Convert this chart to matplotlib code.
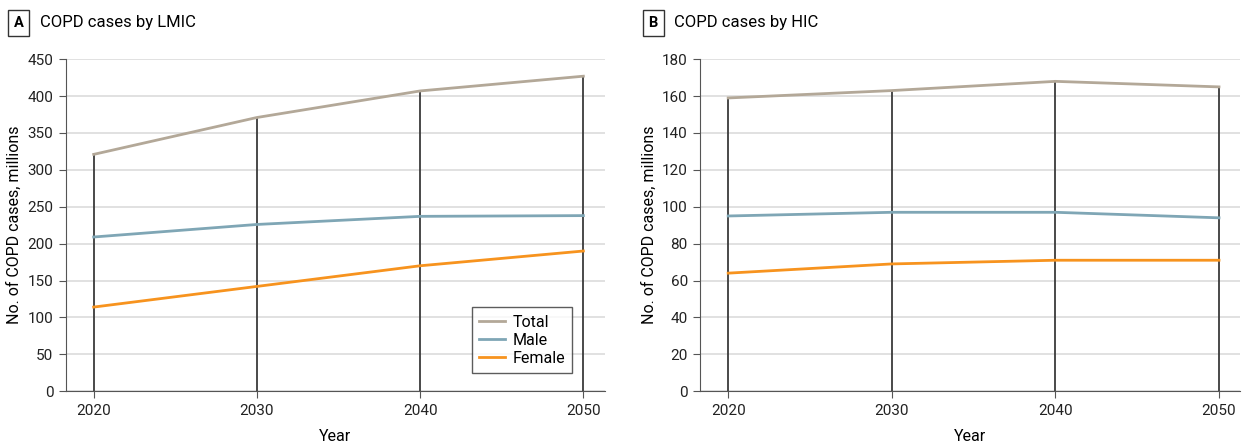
import matplotlib.pyplot as plt

YEARS = [2020, 2030, 2040, 2050]

LMIC_TOTAL = [321, 371, 407, 427]
LMIC_MALE = [209, 226, 237, 238]
LMIC_FEMALE = [114, 142, 170, 190]

HIC_TOTAL = [159, 163, 168, 165]
HIC_MALE = [95, 97, 97, 94]
HIC_FEMALE = [64, 69, 71, 71]

COLOR_TOTAL = "#b3a898"
COLOR_MALE = "#7fa6b5"
COLOR_FEMALE = "#f7931e"

plt.rcParams["font.family"] = ["Roboto", "DejaVu Sans"]
plt.rcParams["font.size"] = 11


def draw_panel(fig, ax, total, male, female, ymax, ystep, letter, title, legend=False):
    # dark stems from zero up to the total at each year
    for x, t in zip(YEARS, total):
        ax.plot([x, x], [0, t], color="#3a3a3a", lw=1.3, zorder=2)
    ax.plot(YEARS, total, color=COLOR_TOTAL, lw=2, label="Total", zorder=3)
    ax.plot(YEARS, male, color=COLOR_MALE, lw=2, label="Male", zorder=3)
    ax.plot(YEARS, female, color=COLOR_FEMALE, lw=2, label="Female", zorder=3)

    ax.set_xlim(2018.3, 2051.3)
    ax.set_ylim(0, ymax)
    ax.set_xticks(YEARS)
    ax.set_yticks(range(0, ymax + 1, ystep))
    ax.yaxis.grid(True, color="#dcdcdc", lw=1.2)
    ax.set_axisbelow(True)
    for s in ["top", "right"]:
        ax.spines[s].set_visible(False)
    ax.spines["left"].set_color("#555555")
    ax.spines["bottom"].set_color("#555555")
    ax.tick_params(length=5, color="#555555", labelsize=11, labelcolor="#222222", pad=4)
    ax.set_xlabel("Year", fontsize=11.5, labelpad=8)
    ax.set_ylabel("No. of COPD cases, millions", fontsize=11.5, labelpad=4)

    if legend:
        leg = ax.legend(loc="lower right", bbox_to_anchor=(0.955, 0.03), fontsize=11.5,
                        frameon=True, fancybox=False, edgecolor="#333333",
                        handlelength=1.6, handletextpad=0.5, borderpad=0.45,
                        labelspacing=0.2)
        leg.get_frame().set_linewidth(1.0)

    pos = ax.get_position()
    fig.text(pos.x0 - 0.038, 0.948, letter, fontsize=10.5, fontweight="bold",
             ha="center", va="center",
             bbox=dict(boxstyle="square,pad=0.4", fc="white", ec="#333333", lw=1))
    fig.text(pos.x0 - 0.021, 0.948, title, fontsize=12, ha="left", va="center")


fig = plt.figure(figsize=(12.44, 4.42), dpi=100)
ax1 = fig.add_axes([0.053, 0.115, 0.433, 0.751])
ax2 = fig.add_axes([0.563, 0.115, 0.434, 0.751])

draw_panel(fig, ax1, LMIC_TOTAL, LMIC_MALE, LMIC_FEMALE, 450, 50, "A", "COPD cases by LMIC", legend=True)
draw_panel(fig, ax2, HIC_TOTAL, HIC_MALE, HIC_FEMALE, 180, 20, "B", "COPD cases by HIC")

fig.savefig("out.png", dpi=100)
